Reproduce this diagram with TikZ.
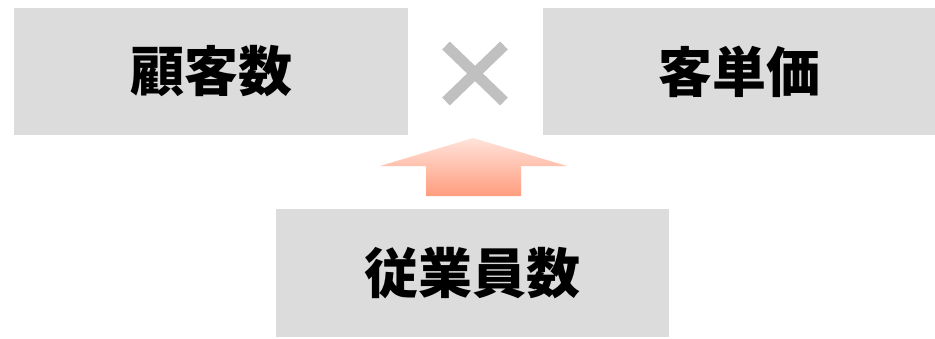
\documentclass[tikz,border=0pt]{standalone}
\usepackage{fontspec}
\usetikzlibrary{calc}
\newfontfamily\cjk{Noto Sans CJK JP}
\definecolor{boxgray}{HTML}{DCDCDC}
\definecolor{crossgray}{HTML}{C0C0C0}
\definecolor{arrtop}{HTML}{FFE3DA}
\definecolor{arrbot}{HTML}{FF9C7E}
\tikzset{
  termbox/.style={fill=boxgray, draw=none, minimum height=127pt, inner sep=0pt,
    font=\cjk\bfseries\fontsize{54}{54}\selectfont, text=black},
}
\begin{document}
\begin{tikzpicture}[x=1pt,y=-1pt]
\useasboundingbox (0,0) rectangle (935,338);
\node[termbox, minimum width=394pt] (cust) at (211,71.5) {顧客数};
\node[termbox, minimum width=392pt] (price) at (739,71.5) {客単価};
\node[termbox, minimum width=393pt, minimum height=128pt] (staff) at (472.5,273) {従業員数};
\coordinate (xc) at (475,73.5);
\draw[crossgray, line width=11pt] ($(xc)+(-29,-28)$) -- ($(xc)+(29,28)$)
  ($(xc)+(-29,28)$) -- ($(xc)+(29,-28)$);
\shade[top color=arrtop, bottom color=arrbot]
  (473,138) -- (567,166) -- (521,166) -- (521,196) -- (426,196) -- (426,166) -- (380,166) -- cycle;
\end{tikzpicture}
\end{document}
